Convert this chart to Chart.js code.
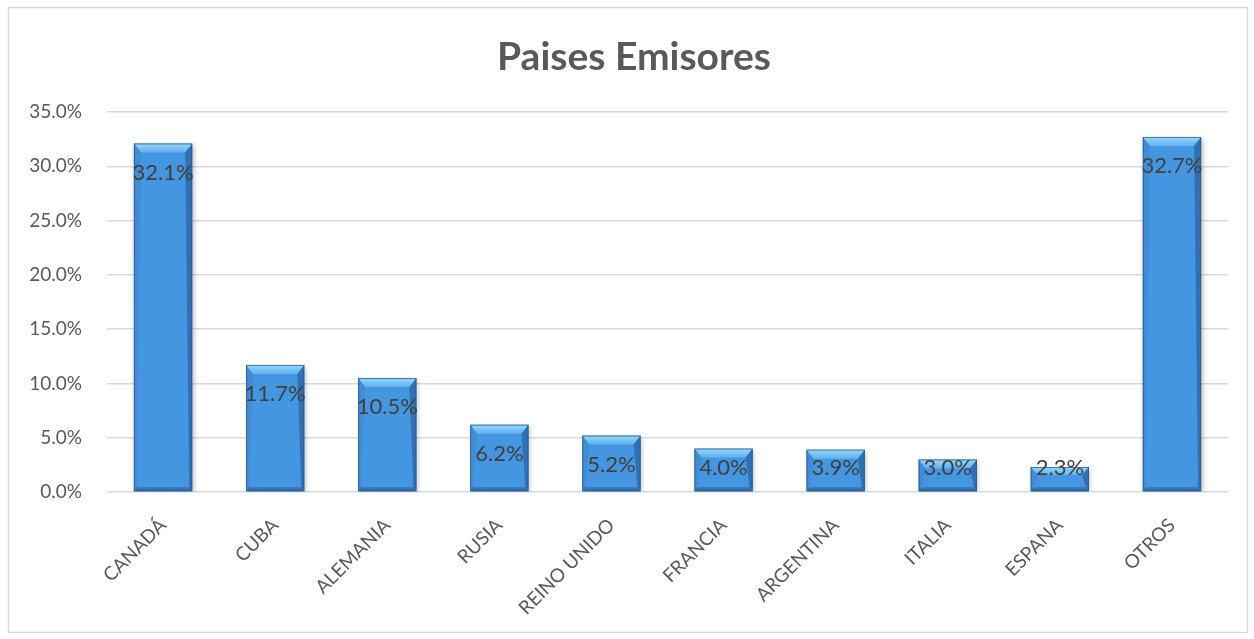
<!DOCTYPE html>
<html>
<head>
<meta charset="utf-8">
<style>
  html, body { margin: 0; padding: 0; background: #ffffff; }
  #wrap { width: 1254px; height: 639px; position: relative; }
</style>
<script src="https://cdn.jsdelivr.net/npm/chart.js@4/dist/chart.umd.min.js"></script>
</head>
<body>
<div id="wrap"><canvas id="c" width="1254" height="639"></canvas></div>
<script>
const chartTitle = 'Paises Emisores';
const paises = ['CANADÁ', 'CUBA', 'ALEMANIA', 'RUSIA', 'REINO UNIDO', 'FRANCIA', 'ARGENTINA', 'ITALIA', 'ESPANA', 'OTROS'];
const porcentajes = [32.1, 11.7, 10.5, 6.2, 5.2, 4.0, 3.9, 3.0, 2.3, 32.7];
const ejeMax = 35;
const ejePaso = 5;

const fontFamily = 'Lato, "Open Sans", sans-serif';

// Marco gris alrededor del gráfico y título
const marco = {
  id: 'marco',
  beforeDraw(chart) {
    const ctx = chart.ctx;
    ctx.save();
    ctx.fillStyle = '#ffffff';
    ctx.fillRect(0, 0, chart.width, chart.height);
    ctx.strokeStyle = '#d9d9d9';
    ctx.lineWidth = 1.5;
    ctx.strokeRect(8.5, 7.5, 1239, 625);
    ctx.fillStyle = '#595959';
    ctx.font = 'bold 39px ' + fontFamily;
    ctx.textAlign = 'center';
    ctx.textBaseline = 'middle';
    ctx.fillText(chartTitle, 634, 57);
    ctx.restore();
  }
};

// Sombra suave de las barras
const sombra = {
  id: 'sombra',
  beforeDatasetsDraw(chart) {
    const ctx = chart.ctx;
    ctx.save();
    ctx.shadowColor = 'rgba(0,0,0,0.28)';
    ctx.shadowBlur = 5;
    ctx.shadowOffsetX = 1.5;
    ctx.shadowOffsetY = 2;
  },
  afterDatasetsDraw(chart) {
    chart.ctx.restore();
  }
};

// Biselado de cada barra y etiquetas de valor
const bisel = {
  id: 'bisel',
  afterDatasetsDraw(chart) {
    const ctx = chart.ctx;
    const meta = chart.getDatasetMeta(0);
    const yScale = chart.scales.y;
    const base0 = yScale.getPixelForValue(0);
    ctx.save();
    meta.data.forEach((bar, i) => {
      const p = bar.getProps(['x', 'y', 'base', 'width'], true);
      const l = p.x - p.width / 2, r = p.x + p.width / 2;
      const t = p.y, b = p.base;
      const h = b - t;
      const bt = Math.min(9, h / 3);
      const sx = 7;
      const si = 3;
      const bb = Math.min(4, h / 6);

      // bisel superior
      const gTop = ctx.createLinearGradient(0, t, 0, t + bt);
      gTop.addColorStop(0, 'rgba(160,222,252,0.95)');
      gTop.addColorStop(1, 'rgba(105,190,248,0.7)');
      ctx.fillStyle = gTop;
      ctx.beginPath();
      ctx.moveTo(l, t); ctx.lineTo(r, t);
      ctx.lineTo(r - sx, t + bt); ctx.lineTo(l + sx, t + bt);
      ctx.closePath(); ctx.fill();

      // lado izquierdo
      ctx.fillStyle = 'rgba(60,125,190,0.4)';
      ctx.beginPath();
      ctx.moveTo(l, t); ctx.lineTo(l + sx, t + bt);
      ctx.lineTo(l + si, b - bb); ctx.lineTo(l, b);
      ctx.closePath(); ctx.fill();

      // lado derecho
      ctx.fillStyle = 'rgba(30,75,130,0.5)';
      ctx.beginPath();
      ctx.moveTo(r, t); ctx.lineTo(r - sx, t + bt);
      ctx.lineTo(r - si, b - bb); ctx.lineTo(r, b);
      ctx.closePath(); ctx.fill();

      // bisel inferior
      ctx.fillStyle = 'rgba(35,80,135,0.5)';
      ctx.beginPath();
      ctx.moveTo(l, b); ctx.lineTo(r, b);
      ctx.lineTo(r - si, b - bb); ctx.lineTo(l + si, b - bb);
      ctx.closePath(); ctx.fill();

      // contorno
      ctx.strokeStyle = 'rgba(40,85,135,0.75)';
      ctx.lineWidth = 1;
      ctx.strokeRect(l + 0.5, t + 0.5, p.width - 1, h - 1);

      // etiqueta de valor
      const cy = Math.min(t + 29, base0 - 24);
      ctx.fillStyle = '#404040';
      ctx.font = '22px ' + fontFamily;
      ctx.textAlign = 'center';
      ctx.textBaseline = 'middle';
      ctx.fillText(porcentajes[i].toFixed(1) + '%', p.x, cy);
    });
    ctx.restore();
  }
};

function rellenoBarra(context) {
  const chart = context.chart;
  const el = context.element;
  if (!chart.chartArea || !el) return '#4596e0';
  const p = el.getProps(['y', 'base'], true);
  if (!isFinite(p.y) || !isFinite(p.base) || p.base - p.y < 1) return '#4596e0';
  const g = chart.ctx.createLinearGradient(0, p.y, 0, p.base);
  g.addColorStop(0, '#55abf2');
  g.addColorStop(0.5, '#4897e2');
  g.addColorStop(1, '#397bbe');
  return g;
}

new Chart(document.getElementById('c'), {
  type: 'bar',
  data: {
    labels: paises,
    datasets: [{
      data: porcentajes,
      backgroundColor: rellenoBarra,
      borderWidth: 0,
      barPercentage: 0.52,
      categoryPercentage: 1
    }]
  },
  plugins: [marco, sombra, bisel],
  options: {
    responsive: false,
    animation: false,
    devicePixelRatio: 1,
    layout: { padding: { left: 8, right: 26, top: 112, bottom: 0 } },
    plugins: {
      legend: { display: false },
      title: { display: false },
      tooltip: { enabled: false }
    },
    scales: {
      x: {
        grid: { display: false },
        border: { display: false },
        afterFit(scale) { scale.height = 147; },
        ticks: {
          color: '#595959',
          font: { family: fontFamily, size: 19 },
          maxRotation: 45,
          minRotation: 45,
          padding: 14,
          autoSkip: false
        }
      },
      y: {
        min: 0,
        max: ejeMax,
        afterFit(scale) { scale.width = 99; },
        grid: { color: '#d9d9d9', lineWidth: 1.5, drawTicks: false },
        border: { display: false },
        ticks: {
          stepSize: ejePaso,
          color: '#595959',
          font: { family: fontFamily, size: 19 },
          padding: 25,
          callback: v => Number(v).toFixed(1) + '%'
        }
      }
    }
  }
});
</script>
</body>
</html>
